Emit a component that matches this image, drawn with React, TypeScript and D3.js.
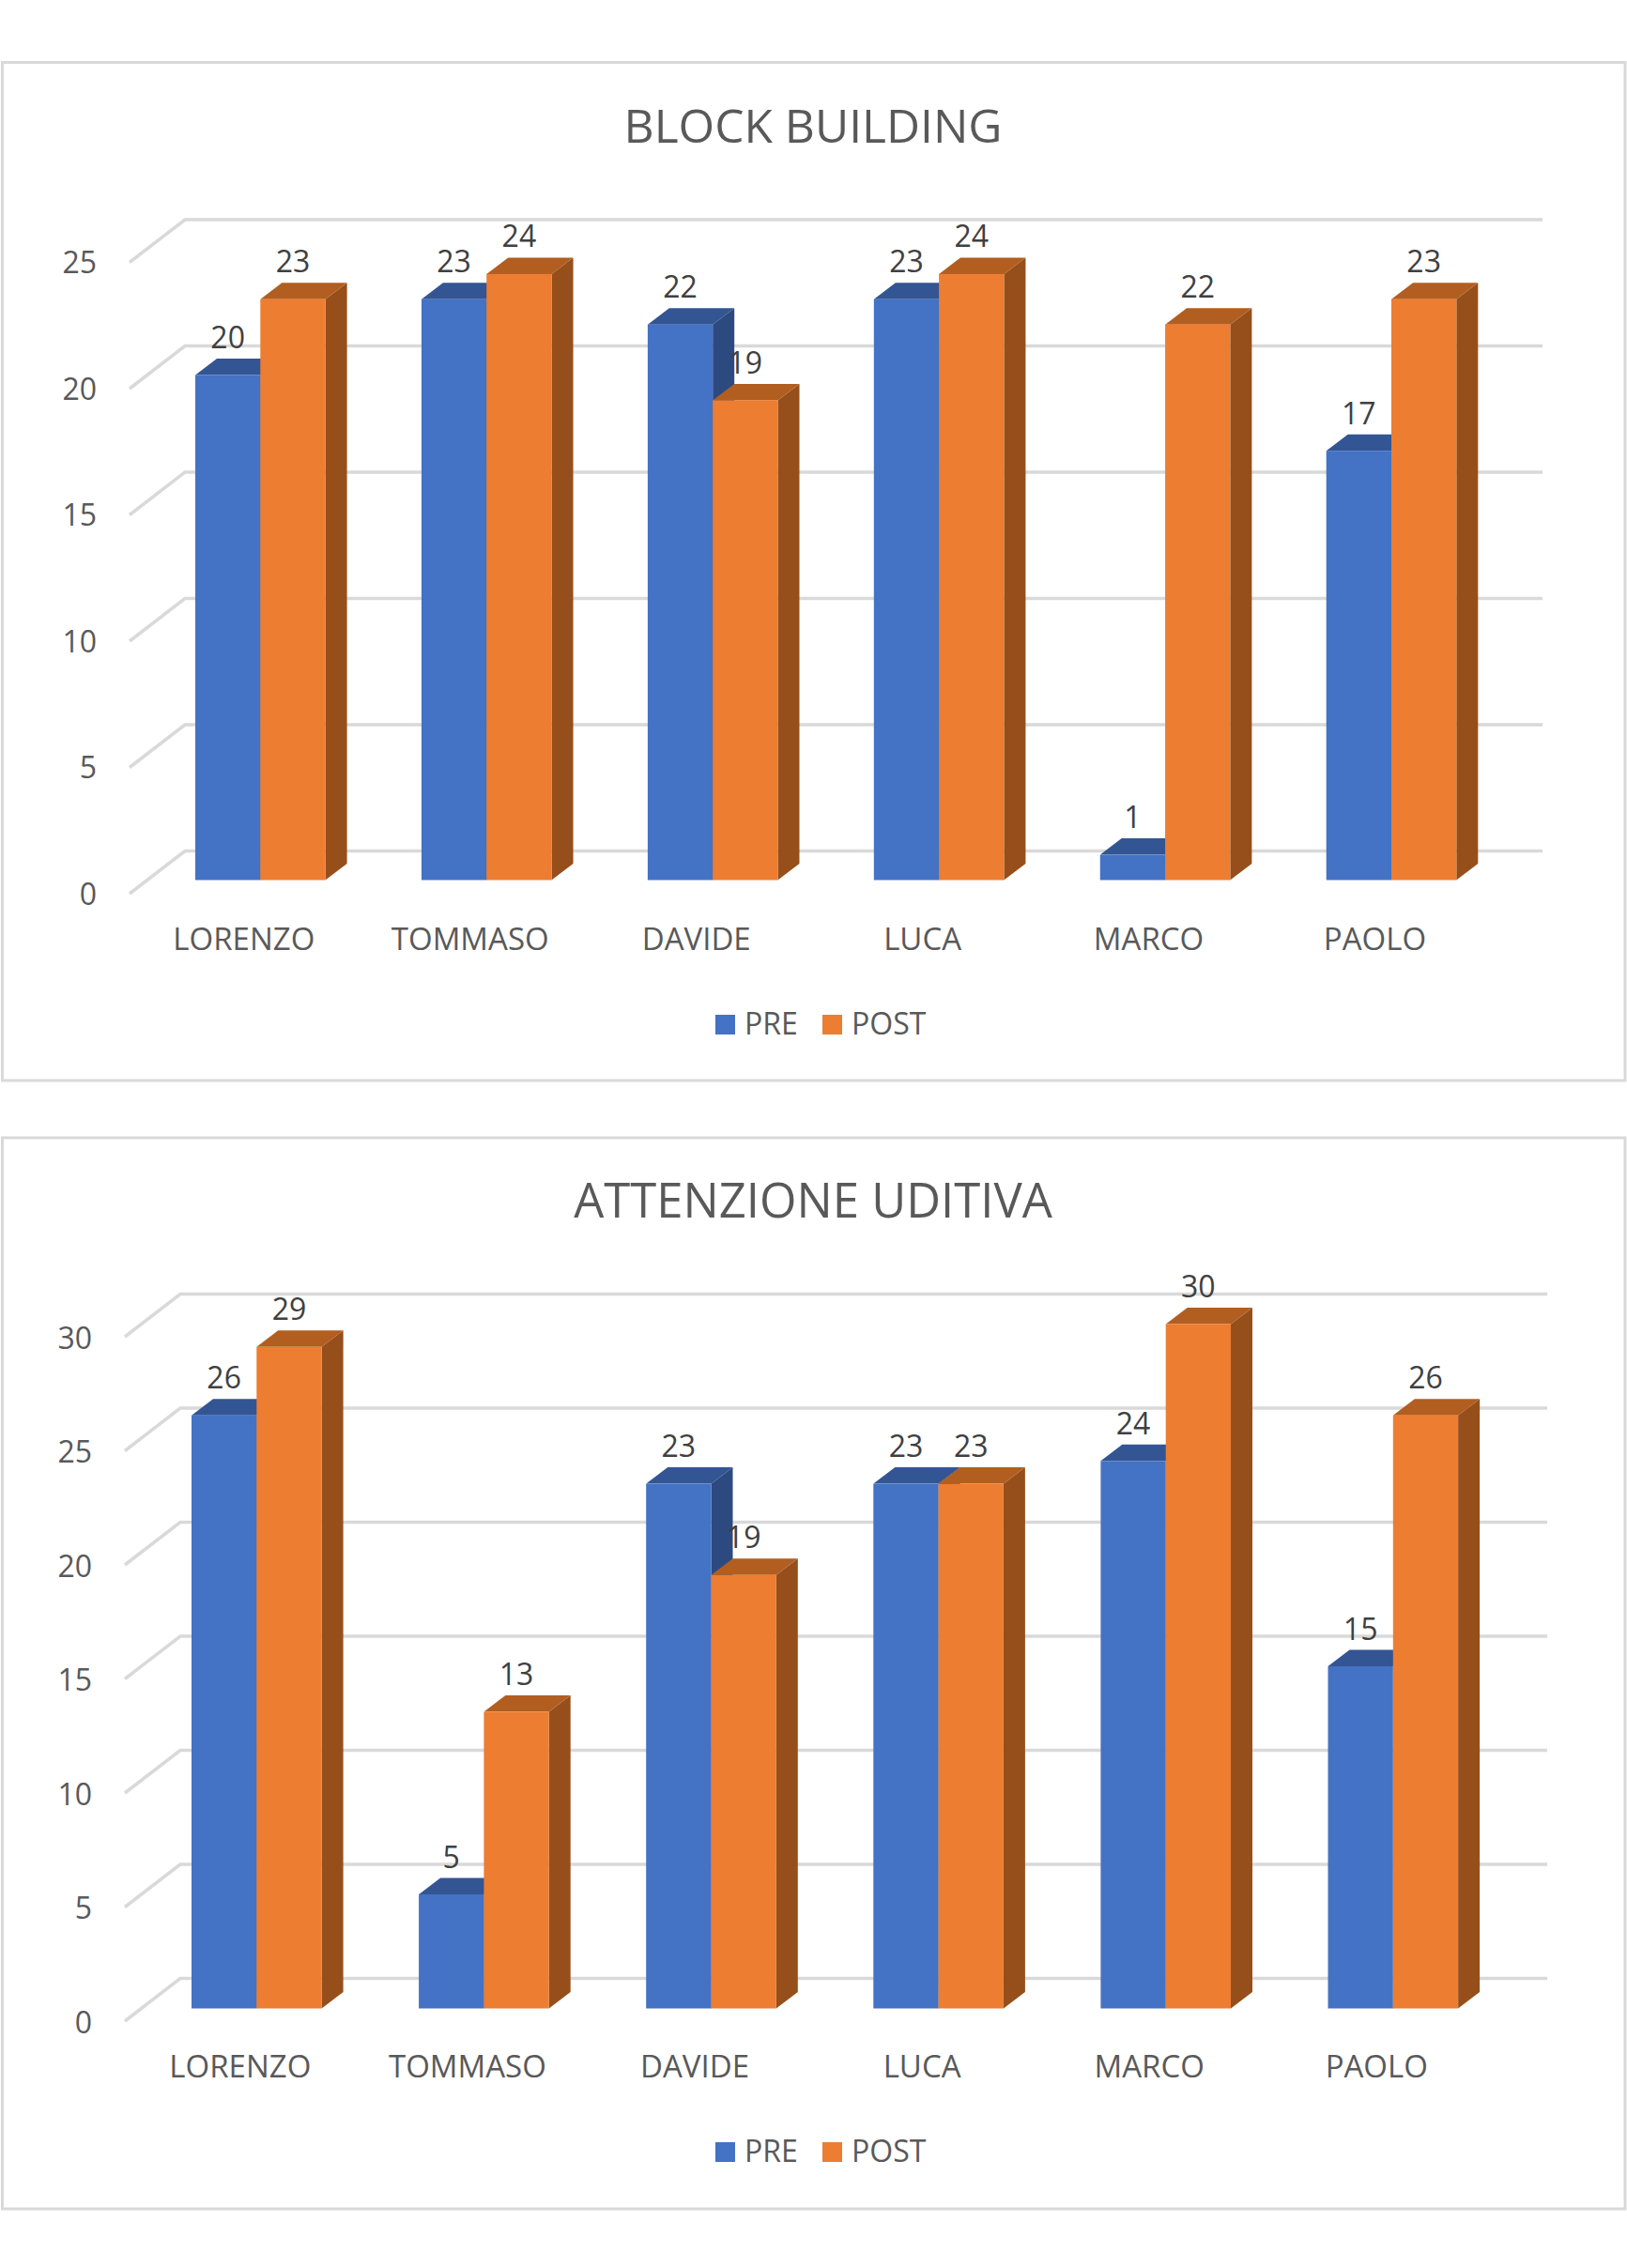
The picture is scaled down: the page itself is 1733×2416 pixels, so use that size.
import React from "react";
import * as d3 from "d3";

const categories = ["LORENZO", "TOMMASO", "DAVIDE", "LUCA", "MARCO", "PAOLO"];
const seriesNames = ["PRE", "POST"];
const blockPre = [20, 23, 22, 23, 1, 17];
const blockPost = [23, 24, 19, 24, 22, 23];
const attentionPre = [26, 5, 23, 23, 24, 15];
const attentionPost = [29, 13, 19, 23, 30, 26];
const blockTicks = [0, 5, 10, 15, 20, 25];
const attentionTicks = [0, 5, 10, 15, 20, 25, 30];

const FONT = "'Open Sans', sans-serif";
const GRID = "#d9d9d9";
const COLORS = [
  { front: "#4472c4", top: "#335593", side: "#2c4a80" },
  { front: "#ed7d31", top: "#b25e20", side: "#964f1b" },
];

type ChartProps = {
  title: string;
  titleSize: number;
  pre: number[];
  post: number[];
  ticks: number[];
  frame: [number, number];
  titleY: number;
  base: number;
  unit: number;
  barLeft: number;
  barEnd: number;
  gridRight: number;
  tickFrontX: number;
  tickRight: number;
  labelY: number;
  legendY: number;
  gridShift: number;
};

function Chart(p: ChartProps) {
  const barW = 69.3;
  const depthX = 23;
  const depthY = 17.5;
  const gridDX = 59;
  const gridDY = 45.5;
  const step = (p.barEnd - p.barLeft) / 5;
  const gap = step - 2 * barW;
  const x = d3
    .scaleBand<string>()
    .domain(categories)
    .range([p.barLeft - gap / 2, p.barLeft - gap / 2 + 6 * step]);
  const y = d3.scaleLinear().domain([0, 1]).range([p.base, p.base - p.unit]);
  const frontTickY = (t: number) => y(t) + 14 + p.gridShift;
  const backY = (t: number) => frontTickY(t) - gridDY;
  const series = [p.pre, p.post];

  return (
    <g>
      <rect x={2.5} y={p.frame[0]} width={1728.5} height={p.frame[1] - p.frame[0]} fill="#fff" stroke={GRID} strokeWidth={3} />
      <text x={866} y={p.titleY} textAnchor="middle" fontFamily={FONT} fontSize={p.titleSize} fill="#595959">{p.title}</text>

      {p.ticks.map((t) => (
        <g key={t}>
          <path
            d={`M${p.tickFrontX},${frontTickY(t)}L${p.tickFrontX + gridDX},${backY(t)}H${p.gridRight}`}
            fill="none" stroke={GRID} strokeWidth={3.5}
          />
          <text x={p.tickRight} y={y(t) + 26} textAnchor="end" fontFamily={FONT} fontSize={32} fill="#595959">{t}</text>
        </g>
      ))}

      {categories.map((c, i) => {
        const gx = (x(c) as number) + gap / 2;
        return (
          <g key={c}>
            {series.map((vals, s) => {
              const l = gx + s * barW;
              const r = l + barW;
              const top = y(vals[i]);
              const col = COLORS[s];
              return (
                <g key={s}>
                  <path d={`M${r},${top}L${r + depthX},${top - depthY}V${p.base - depthY}L${r},${p.base}Z`} fill={col.side} />
                  <path d={`M${l},${top}L${l + depthX},${top - depthY}H${r + depthX}L${r},${top}Z`} fill={col.top} />
                  <rect x={l} y={top} width={barW} height={p.base - top} fill={col.front} />
                </g>
              );
            })}
            <text x={gx + barW - 17.5} y={p.labelY} textAnchor="middle" fontFamily={FONT} fontSize={33} fill="#595959">{c}</text>
          </g>
        );
      })}

      {categories.map((c, i) => {
        const gx = (x(c) as number) + gap / 2;
        return series.map((vals, s) => (
          <text key={c + s} x={gx + s * barW + barW / 2} y={y(vals[i]) - depthY - 11} textAnchor="middle" fontFamily={FONT} fontSize={32} fill="#404040">
            {vals[i]}
          </text>
        ));
      })}

      {seriesNames.map((n, s) => {
        const lx = s === 0 ? 762 : 876;
        return (
          <g key={n}>
            <rect x={lx} y={p.legendY - 21} width={21} height={21} fill={COLORS[s].front} />
            <text x={lx + 31} y={p.legendY} fontFamily={FONT} fontSize={32} fill="#595959">{n}</text>
          </g>
        );
      })}
    </g>
  );
}

export default function App() {
  return (
    <svg width={1733} height={2416} viewBox="0 0 1733 2416" style={{ position: "absolute", left: 0, top: 0, background: "#fff" }}>
      <Chart title="BLOCK BUILDING" titleSize={49.7} pre={blockPre} post={blockPost} ticks={blockTicks} frame={[66.5, 1151]} titleY={152}
        base={937.5} unit={26.9} barLeft={208} barEnd={1412.7} gridRight={1643} tickFrontX={138} tickRight={103} labelY={1012} legendY={1102} gridShift={0.5} />
      <Chart title="ATTENZIONE UDITIVA" titleSize={50.8} pre={attentionPre} post={attentionPost} ticks={attentionTicks} frame={[1212, 2353]} titleY={1297}
        base={2139.5} unit={24.3} barLeft={204} barEnd={1414.5} gridRight={1648} tickFrontX={133} tickRight={98} labelY={2213} legendY={2303} gridShift={-0.5} />
    </svg>
  );
}
